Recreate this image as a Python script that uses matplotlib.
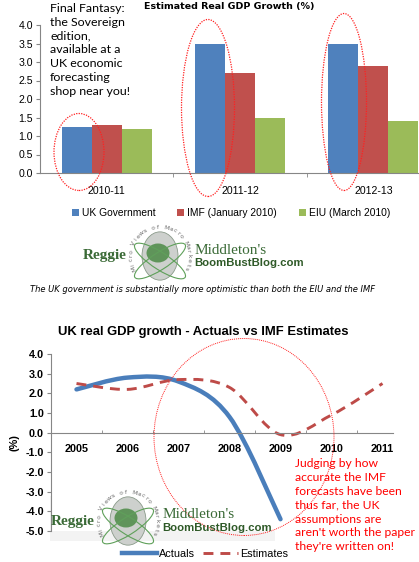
import numpy as np
import matplotlib.pyplot as plt
from matplotlib.patches import Ellipse, Circle, PathPatch, Rectangle
from matplotlib.path import Path
from matplotlib.lines import Line2D

# top chart data
periods = ['2010-11', '2011-12', '2012-13']
uk_gov = [1.25, 3.5, 3.5]
imf_jan = [1.3, 2.7, 2.9]
eiu_mar = [1.2, 1.5, 1.4]
bar_names = ['UK Government', 'IMF (January 2010)', 'EIU (March 2010)']
bar_colors = ['#4F81BD', '#C0504D', '#9BBB59']

# bottom chart data
years = ['2005', '2006', '2007', '2008', '2009', '2010', '2011']
actuals = [2.2, 2.8, 2.6, 0.8, -4.4]
estimates = [2.5, 2.2, 2.7, 2.3, -0.1, 0.9, 2.5]

W, H = 419, 562
plt.rcParams['font.family'] = ['Liberation Sans', 'DejaVu Sans']


def fx(x):
    return x / W


def fy(y):
    return 1 - y / H


def smooth_path(xs, ys):
    # excel-style smoothed line as cubic bezier through the points
    pts = np.column_stack([xs, ys]).astype(float)
    n = len(pts)
    verts = [pts[0]]
    codes = [Path.MOVETO]
    for i in range(n - 1):
        p0 = pts[max(i - 1, 0)]
        p1 = pts[i]
        p2 = pts[i + 1]
        p3 = pts[min(i + 2, n - 1)]
        verts += [p1 + (p2 - p0) / 6, p2 - (p3 - p1) / 6, p2]
        codes += [Path.CURVE4] * 3
    return Path(verts, codes)


def logo(fig, x, y):
    # x, y = globe centre in pixels
    fig.text(fx(x - 33), fy(y), 'Reggie', family='Liberation Serif', weight='bold',
             fontsize=11, color='#3A6A36', ha='right', va='center')
    fig.add_artist(Circle((fx(x), fy(y)), 18 / W, transform=fig.transFigure,
                          fc='#CDD0CD', ec='#8A9A8A', lw=0.6))
    fig.add_artist(Ellipse((fx(x - 2), fy(y - 3)), 23 / W, 19 / H, transform=fig.transFigure,
                           fc='#4C8A46', ec='none', alpha=0.85))
    for ang in (25, -25):
        fig.add_artist(Ellipse((fx(x), fy(y + 5)), 56 / W, 18 / H, angle=ang,
                               transform=fig.transFigure, fc='none', ec='#5FA05A', lw=0.8))
    words = 'Micro Views of Macro Markets'
    r = 29
    angs = np.linspace(205, -25, len(words))
    for ch, a in zip(words, angs):
        t = np.deg2rad(a)
        fig.text(fx(x + r * np.cos(t)), fy(y - r * np.sin(t)), ch, fontsize=4.4,
                 color='#6A6A6A', ha='center', va='center', rotation=a - 90,
                 family='DejaVu Sans')
    fig.text(fx(x + 35), fy(y - 6), "Middleton's", family='Liberation Serif',
             fontsize=11, color='#3A6A36', ha='left', va='center')
    fig.text(fx(x + 34), fy(y + 7), 'BoomBustBlog.com', weight='bold',
             fontsize=8.2, color='#2F5A28', ha='left', va='center')


fig = plt.figure(figsize=(W / 100, H / 100), dpi=100)
fig.patch.set_facecolor('white')

# ---------------- top chart: bars ----------------
ax1 = fig.add_axes([fx(40), fy(173), 400 / W, 148 / H])
x = np.arange(len(periods))
bw = 0.225
series = [uk_gov, imf_jan, eiu_mar]
handles = []
for k, (vals, name, col) in enumerate(zip(series, bar_names, bar_colors)):
    handles.append(ax1.bar(x + (k - 1) * bw, vals, bw, color=col, label=name))
ax1.set_xlim(-0.5, 2.5)
ax1.set_ylim(0, 4)
yt1 = np.arange(0, 4.01, 0.5)
ax1.set_yticks(yt1)
ax1.set_yticklabels([f'{v:.1f}' for v in yt1])
ax1.set_xticks(x)
ax1.set_xticklabels(periods)
ax1.set_xticks([0.5, 1.5], minor=True)
ax1.tick_params(axis='x', which='major', length=0, pad=9, labelsize=7.6)
ax1.tick_params(axis='x', which='minor', length=3, direction='out', color='#868686')
ax1.tick_params(axis='y', length=3, color='#868686', pad=2, labelsize=7.6)
for s in ['top', 'right']:
    ax1.spines[s].set_visible(False)
for s in ['left', 'bottom']:
    ax1.spines[s].set_color('#868686')
    ax1.spines[s].set_linewidth(0.8)

fig.text(fx(229), fy(7), 'Estimated Real GDP Growth (%)', family='DejaVu Sans',
         weight='bold', fontsize=6.8, ha='center', va='center')

fig.legend(handles=handles, loc='center', bbox_to_anchor=(fx(231), fy(213)), ncol=3,
           frameon=False, prop={'size': 7.4}, handlelength=0.7,
           handleheight=0.7, handletextpad=0.3, columnspacing=2.1)

fig.text(fx(50), fy(3), 'Final Fantasy:\nthe Sovereign\nedition,\navailable at a\nUK economic\nforecasting\nshop near you!',
         family='Lato', fontsize=8.9, ha='left', va='top', linespacing=1.31)

for cx, cy, w, h in [(79, 152, 50, 77), (208, 108, 53, 177), (344, 102, 45, 177)]:
    fig.add_artist(Ellipse((fx(cx), fy(cy)), w / W, h / H, transform=fig.transFigure,
                           fc='none', ec='#FF2020', lw=0.9, ls=(0, (1, 1))))

logo(fig, 160, 256)
fig.text(fx(203), fy(290),
         'The UK government is substantially more optimistic than both the EIU and the IMF',
         family='DejaVu Sans', style='italic', fontsize=6.0, ha='center', va='center')

# ---------------- bottom chart: lines ----------------
ax2 = fig.add_axes([fx(51), fy(531), 357 / W, 177 / H])
xi = np.arange(len(years))
ax2.add_patch(PathPatch(smooth_path(xi[:len(actuals)], actuals), fc='none', ec='#4A7EBB',
                        lw=3.2, capstyle='round', joinstyle='round'))
ax2.add_patch(PathPatch(smooth_path(xi, estimates), fc='none', ec='#BE4B48',
                        lw=2.1, ls=(0, (3.4, 2.4)), capstyle='butt'))
ax2.set_xlim(-0.5, 6.5)
ax2.set_ylim(-5, 4)
ax2.spines['bottom'].set_position(('data', 0))
ax2.spines['bottom'].set_bounds(-0.5, 6.2)
yt2 = np.arange(-5, 4.01, 1)
ax2.set_yticks(yt2)
ax2.set_yticklabels([f'{v:.1f}' for v in yt2])
ax2.set_xticks(xi)
ax2.set_xticklabels(years)
ax2.set_xticks(xi[:-1] + 0.5, minor=True)
ax2.tick_params(axis='x', which='major', length=0, pad=8, labelsize=7.8)
ax2.tick_params(axis='x', which='minor', length=2.5, direction='in', color='#868686')
ax2.tick_params(axis='y', length=3, color='#868686', pad=2, labelsize=7.8)
for lbl in ax2.get_xticklabels() + ax2.get_yticklabels():
    lbl.set_fontweight('bold')
for s in ['top', 'right']:
    ax2.spines[s].set_visible(False)
for s in ['left', 'bottom']:
    ax2.spines[s].set_color('#868686')
    ax2.spines[s].set_linewidth(0.8)
ax2.set_ylabel('(%)', fontsize=7.8, weight='bold', labelpad=4)

fig.text(fx(203), fy(332), 'UK real GDP growth - Actuals vs IMF Estimates',
         weight='bold', fontsize=9.4, ha='center', va='center')

leg_handles = [Line2D([], [], color='#4A7EBB', lw=3.2),
               Line2D([], [], color='#BE4B48', lw=2.1, ls=(0, (3.4, 2.4)))]
fig.legend(handles=leg_handles, labels=['Actuals', 'Estimates'], loc='center',
           bbox_to_anchor=(fx(205), fy(554)), ncol=2, frameon=False,
           prop={'size': 7.8}, handlelength=3.2, handletextpad=0.2,
           columnspacing=0.8)

fig.add_artist(Rectangle((fx(50), fy(541)), 225 / W, 45 / H, transform=fig.transFigure,
                         fc='#F3F3F3', ec='none', zorder=0))
logo(fig, 128, 521)

fig.add_artist(Ellipse((fx(244), fy(437)), 180 / W, 197 / H, transform=fig.transFigure,
                       fc='none', ec='#FF2020', lw=0.7, ls=(0, (1, 1))))

fig.text(fx(295), fy(458),
         "Judging by how\naccurate the IMF\nforecasts have been\nthus far, the UK\nassumptions are\naren't worth the paper\nthey're written on!",
         family='Lato', fontsize=8.7, color='#FF0000', ha='left', va='top', linespacing=1.32)

fig.savefig('out.png', dpi=100)
